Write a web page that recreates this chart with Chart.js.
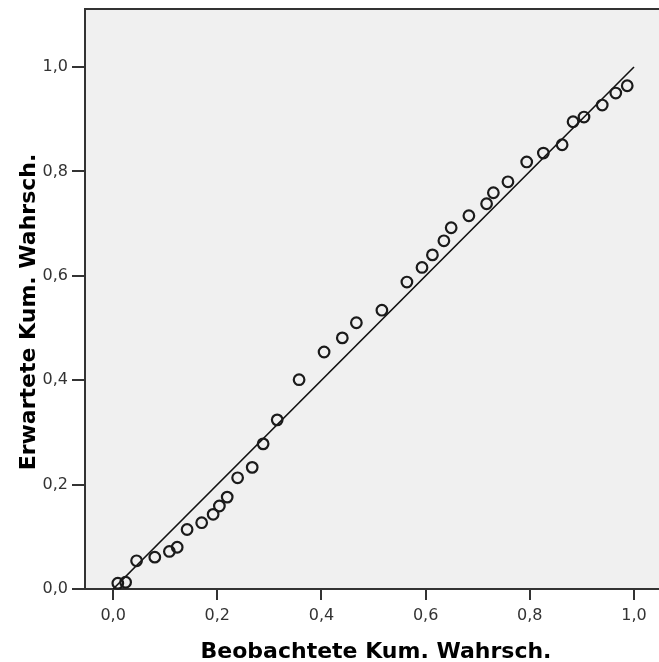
<!DOCTYPE html>
<html>
<head>
<meta charset="utf-8">
<script src="https://cdn.jsdelivr.net/npm/chart.js@4.4.1/dist/chart.umd.min.js"></script>
<style>
  html, body { margin: 0; padding: 0; background: #ffffff; }
  #wrap { width: 659px; height: 662px; }
</style>
</head>
<body>
<div id="wrap"><canvas id="pp" width="659" height="662"></canvas></div>
<script>
// Observed vs expected cumulative probabilities (P-P plot)
const observed = [0.009, 0.024, 0.045, 0.080, 0.108, 0.123, 0.142, 0.170, 0.192, 0.204,
                  0.219, 0.239, 0.267, 0.288, 0.315, 0.357, 0.405, 0.440, 0.467, 0.516,
                  0.564, 0.593, 0.613, 0.635, 0.649, 0.683, 0.717, 0.730, 0.758, 0.794,
                  0.826, 0.862, 0.883, 0.904, 0.939, 0.965, 0.987];
const expected = [0.011, 0.013, 0.054, 0.061, 0.072, 0.080, 0.114, 0.127, 0.143, 0.159,
                  0.176, 0.213, 0.233, 0.278, 0.324, 0.401, 0.454, 0.481, 0.510, 0.534,
                  0.588, 0.616, 0.640, 0.667, 0.692, 0.715, 0.738, 0.759, 0.780, 0.818,
                  0.835, 0.851, 0.895, 0.904, 0.927, 0.950, 0.964];

// Reference diagonal
const diagX = [0, 1];
const diagY = [0, 1];

const xTickValues = [0, 0.2, 0.4, 0.6, 0.8, 1.0];
const xTickLabels = ['0,0', '0,2', '0,4', '0,6', '0,8', '1,0'];
const yTickValues = [0, 0.2, 0.4, 0.6, 0.8, 1.0];
const yTickLabels = ['0,0', '0,2', '0,4', '0,6', '0,8', '1,0'];

const xTitle = 'Beobachtete Kum. Wahrsch.';
const yTitle = 'Erwartete Kum. Wahrsch.';

const AXIS = '#333333';
const TICK_FONT = { family: 'DejaVu Sans', size: 16 };
const TITLE_FONT = 'bold 22px "DejaVu Sans"';

// Grey plot panel, top frame line and axis titles
const framePlugin = {
  id: 'frame',
  beforeDraw(chart) {
    const { ctx, chartArea: a } = chart;
    ctx.save();
    ctx.fillStyle = '#f0f0f0';
    ctx.fillRect(a.left, a.top, a.right - a.left, a.bottom - a.top);
    ctx.restore();
  },
  afterDraw(chart) {
    const { ctx, chartArea: a } = chart;
    ctx.save();
    ctx.strokeStyle = AXIS;
    ctx.lineWidth = 2;
    ctx.beginPath();
    ctx.moveTo(a.left, a.top);
    ctx.lineTo(a.right, a.top);
    ctx.stroke();

    ctx.fillStyle = '#000000';
    ctx.font = TITLE_FONT;
    ctx.textAlign = 'center';
    ctx.textBaseline = 'alphabetic';
    ctx.fillText(xTitle, (a.left + a.right) / 2 + 4, chart.height - 4.5);

    ctx.translate(35, (a.top + a.bottom) / 2 + 13);
    ctx.rotate(-Math.PI / 2);
    ctx.fillText(yTitle, 0, 0);
    ctx.restore();
  }
};

const points = observed.map((x, i) => ({ x: x, y: expected[i] }));
const diagonal = diagX.map((x, i) => ({ x: x, y: diagY[i] }));

new Chart(document.getElementById('pp'), {
  type: 'scatter',
  data: {
    datasets: [
      {
        data: points,
        pointStyle: 'circle',
        pointRadius: 5.3,
        pointBorderWidth: 2.2,
        pointBorderColor: '#1a1a1a',
        pointBackgroundColor: 'rgba(0,0,0,0)',
        showLine: false,
        clip: false
      },
      {
        data: diagonal,
        showLine: true,
        borderColor: '#111111',
        borderWidth: 1.6,
        pointRadius: 0,
        fill: false
      }
    ]
  },
  options: {
    responsive: false,
    animation: false,
    devicePixelRatio: 1,
    layout: { autoPadding: false, padding: { top: 9, right: 0, bottom: 0, left: 0 } },
    plugins: { legend: { display: false }, tooltip: { enabled: false } },
    scales: {
      x: {
        type: 'linear',
        min: -0.054,
        max: 1.048,
        afterBuildTicks: (s) => { s.ticks = xTickValues.map(v => ({ value: v })); },
        afterFit: (s) => { s.height = 73; s.paddingLeft = 0; s.paddingRight = 0; },
        grid: { drawOnChartArea: false, drawTicks: true, tickLength: 11, color: AXIS, lineWidth: 2 },
        border: { display: true, color: AXIS, width: 2 },
        ticks: {
          autoSkip: false, maxRotation: 0, padding: 6, color: '#333333', font: TICK_FONT,
          callback: (v) => xTickLabels[xTickValues.indexOf(v)]
        }
      },
      y: {
        type: 'linear',
        min: 0,
        max: 1.111,
        afterBuildTicks: (s) => { s.ticks = yTickValues.map(v => ({ value: v })); },
        afterFit: (s) => { s.width = 85; s.paddingTop = 0; s.paddingBottom = 0; },
        grid: { drawOnChartArea: false, drawTicks: true, tickLength: 13, color: AXIS, lineWidth: 2 },
        border: { display: true, color: AXIS, width: 2 },
        ticks: {
          autoSkip: false, padding: 4, color: '#333333', font: TICK_FONT,
          callback: (v) => yTickLabels[yTickValues.indexOf(v)]
        }
      }
    }
  },
  plugins: [framePlugin]
});
</script>
</body>
</html>
